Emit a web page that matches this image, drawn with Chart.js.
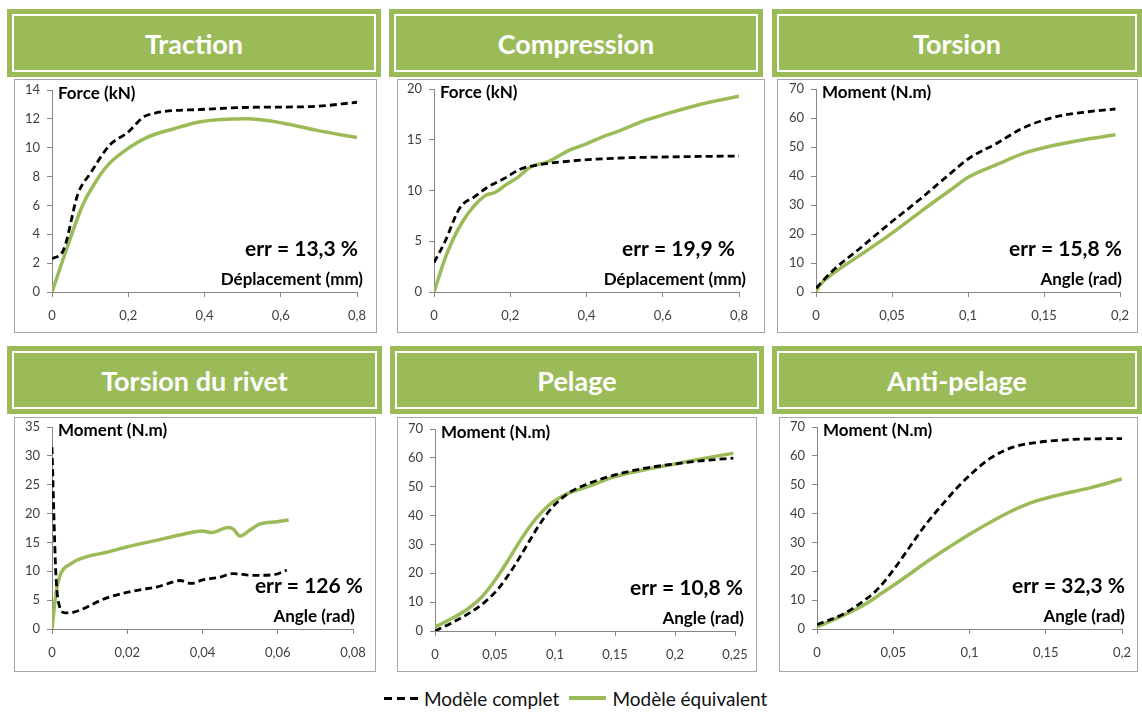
<!DOCTYPE html>
<html lang="fr">
<head>
<meta charset="UTF-8">
<title>Modèle complet / Modèle équivalent</title>
<script src="https://cdn.jsdelivr.net/npm/chart.js"></script>
<style>
  body { margin: 0; background: #fff; font-family: Lato, "Open Sans", sans-serif; }
  #page { position: relative; width: 1142px; height: 713px; overflow: hidden; }
  .header { position: absolute; background: #9BBB59; box-sizing: border-box; padding: 5px; }
  .header div { border: 2px solid #fff; height: 100%; box-sizing: border-box; color: #fff;
    font-weight: bold; font-size: 27px; display: flex; align-items: center; justify-content: center; }
  .box { position: absolute; border: 1px solid #A6A6A6; box-sizing: border-box; background: #fff; }
  .box canvas { position: absolute; left: 0; top: 0; }
  .legend { position: absolute; top: 686px; left: 384px; height: 24px; display: flex; align-items: center;
    font-size: 19px; color: #111; }
  .dash { width: 34px; height: 3px; background: repeating-linear-gradient(90deg, #000 0 8px, transparent 8px 13px); }
  .solid { width: 37px; height: 4px; background: #9BBB59; }
</style>
</head>
<body>
<div id="page"></div>

<script>
// ---- data (x, y) ----
// Traction : force (kN) vs déplacement (mm)
const tractionCompletX = [0, 0.03, 0.068, 0.1, 0.152, 0.196, 0.249, 0.39, 0.52, 0.68, 0.8];
const tractionCompletY = [2.3, 2.9, 6.8, 8.2, 10.2, 11.0, 12.25, 12.65, 12.8, 12.85, 13.15];
const tractionEquivX = [0, 0.04, 0.08, 0.126, 0.15, 0.186, 0.248, 0.318, 0.39, 0.51, 0.607, 0.695, 0.8];
const tractionEquivY = [0, 3.1, 6.0, 8.1, 8.9, 9.7, 10.7, 11.3, 11.8, 12.0, 11.7, 11.2, 10.7];

// Compression : force (kN) vs déplacement (mm)
const compCompletX = [0, 0.028, 0.068, 0.107, 0.139, 0.185, 0.226, 0.27, 0.357, 0.488, 0.6, 0.8];
const compCompletY = [2.9, 4.9, 8.3, 9.4, 10.3, 11.2, 12.1, 12.5, 12.9, 13.2, 13.3, 13.4];
const compEquivX = [0, 0.034, 0.076, 0.134, 0.16, 0.19, 0.22, 0.252, 0.296, 0.357, 0.4, 0.45, 0.488, 0.553, 0.614, 0.7, 0.8];
const compEquivY = [0, 3.8, 7.0, 9.5, 9.8, 10.6, 11.3, 12.3, 12.8, 14.0, 14.6, 15.4, 15.9, 16.9, 17.6, 18.5, 19.3];

// Torsion : moment (N.m) vs angle (rad)
const torsionCompletX = [0, 0.0103, 0.029, 0.05, 0.068, 0.086, 0.101, 0.119, 0.136, 0.156, 0.178, 0.197];
const torsionCompletY = [1.3, 7.0, 15.1, 24.3, 31.8, 39.8, 46.2, 51.3, 56.5, 60.2, 62.1, 63.1];
const torsionEquivX = [0, 0.0026, 0.0114, 0.031, 0.05, 0.068, 0.088, 0.101, 0.121, 0.136, 0.156, 0.178, 0.197];
const torsionEquivY = [0, 2.4, 6.4, 13.4, 20.3, 27.4, 35.0, 39.8, 44.4, 47.7, 50.5, 52.7, 54.2];

// Torsion du rivet : moment (N.m) vs angle (rad)
const rivetCompletX = [0, 0.0005, 0.001, 0.0017, 0.0035, 0.0056, 0.0146, 0.0234, 0.028, 0.0305, 0.034, 0.037, 0.04, 0.0447, 0.048, 0.0535, 0.059, 0.0624];
const rivetCompletY = [31.5, 19.8, 9.9, 4.7, 2.8, 2.9, 5.4, 6.8, 7.3, 7.8, 8.4, 7.9, 8.5, 9.0, 9.6, 9.3, 9.4, 10.2];
const rivetEquivX = [0, 0.001, 0.002, 0.0053, 0.0091, 0.0146, 0.0198, 0.028, 0.034, 0.0398, 0.0424, 0.0469, 0.0482, 0.05, 0.0527, 0.0553, 0.0598, 0.0629];
const rivetEquivY = [0, 5.9, 9.0, 11.4, 12.5, 13.3, 14.2, 15.4, 16.3, 17.0, 16.7, 17.6, 17.3, 16.1, 17.2, 18.2, 18.6, 18.9];

// Pelage : moment (N.m) vs angle (rad)
const pelageCompletX = [0, 0.0139, 0.0278, 0.0417, 0.0528, 0.0639, 0.075, 0.086, 0.097, 0.111, 0.125, 0.15, 0.175, 0.2, 0.225, 0.2486];
const pelageCompletY = [0, 2.8, 6.0, 10.1, 14.7, 21.1, 28.6, 36.2, 42.5, 47.7, 50.6, 54.1, 56.4, 57.9, 59.1, 59.9];
const pelageEquivX = [0, 0.0139, 0.0278, 0.0389, 0.05, 0.0611, 0.0722, 0.0833, 0.097, 0.111, 0.125, 0.15, 0.175, 0.2, 0.225, 0.2486];
const pelageEquivY = [1.4, 4.3, 7.8, 11.8, 17.6, 24.6, 32.1, 38.5, 44.3, 47.7, 49.7, 53.5, 55.9, 57.9, 59.9, 61.6];

// Anti-pelage : moment (N.m) vs angle (rad)
const antiCompletX = [0, 0.0173, 0.0304, 0.039, 0.05, 0.061, 0.072, 0.082, 0.092, 0.1025, 0.1137, 0.129, 0.1465, 0.168, 0.2];
const antiCompletY = [1.5, 5.2, 9.7, 13.4, 20.4, 28.6, 36.7, 43.0, 49.0, 54.4, 59.2, 63.1, 64.8, 65.7, 66.0];
const antiEquivX = [0, 0.0173, 0.0304, 0.0436, 0.0567, 0.072, 0.087, 0.1025, 0.125, 0.14, 0.158, 0.179, 0.2];
const antiEquivY = [0.8, 4.7, 8.2, 12.8, 17.5, 23.3, 28.5, 33.6, 40.2, 43.7, 46.4, 48.9, 52.0];

const seriesNames = ['Modèle complet', 'Modèle équivalent'];
const errors = ['13,3 %', '19,9 %', '15,8 %', '126 %', '10,8 %', '32,3 %'];

// ---- panel layout (page pixels) ----
const panels = [
  { title: 'Traction', yTitle: 'Force (kN)', xTitle: 'Déplacement (mm)', xMax: 0.8, xStep: 0.2, yMax: 14, yStep: 2,
    c: [tractionCompletX, tractionCompletY], e: [tractionEquivX, tractionEquivY],
    head: [7, 9, 381, 77], box: [14, 79, 377, 333], plot: [52, 90, 357, 292], errDx: 1, xtDx: 6 },
  { title: 'Compression', yTitle: 'Force (kN)', xTitle: 'Déplacement (mm)', xMax: 0.8, xStep: 0.2, yMax: 20, yStep: 5,
    c: [compCompletX, compCompletY], e: [compEquivX, compEquivY],
    head: [389, 9, 763, 77], box: [397, 79, 765, 333], plot: [434, 89, 739, 292], errDx: -4, xtDx: 7 },
  { title: 'Torsion', yTitle: 'Moment (N.m)', xTitle: 'Angle (rad)', xMax: 0.2, xStep: 0.05, yMax: 70, yStep: 10,
    c: [torsionCompletX, torsionCompletY], e: [torsionEquivX, torsionEquivY],
    head: [772, 9, 1142, 77], box: [777, 79, 1138, 333], plot: [816, 89, 1120, 292], errDx: 2, xtDx: 2 },
  { title: 'Torsion du rivet', yTitle: 'Moment (N.m)', xTitle: 'Angle (rad)', xMax: 0.08, xStep: 0.02, yMax: 35, yStep: 5,
    c: [rivetCompletX, rivetCompletY], e: [rivetEquivX, rivetEquivY],
    head: [7, 346, 382, 414], box: [14, 417, 376, 672], plot: [52, 427, 353, 629], errDx: 10, xtDx: 2 },
  { title: 'Pelage', yTitle: 'Moment (N.m)', xTitle: 'Angle (rad)', xMax: 0.25, xStep: 0.05, yMax: 70, yStep: 10,
    c: [pelageCompletX, pelageCompletY], e: [pelageEquivX, pelageEquivY],
    head: [390, 346, 764, 414], box: [397, 417, 757, 672], plot: [435, 429, 735, 631], errDx: 8, xtDx: 9 },
  { title: 'Anti-pelage', yTitle: 'Moment (N.m)', xTitle: 'Angle (rad)', xMax: 0.2, xStep: 0.05, yMax: 70, yStep: 10,
    c: [antiCompletX, antiCompletY], e: [antiEquivX, antiEquivY],
    head: [772, 346, 1142, 414], box: [779, 417, 1138, 672], plot: [817, 427, 1122, 629], errDx: 3, xtDx: 3 }
];

const page = document.getElementById('page');
const fmt = v => parseFloat(v.toFixed(4)).toString().replace('.', ',');
const pts = (xs, ys) => xs.map((x, i) => ({ x: x, y: ys[i] }));

// draws the in-plot texts (axis titles and error value)
const annotPlugin = {
  id: 'annot',
  afterDraw(chart, args, o) {
    const a = chart.chartArea, ctx = chart.ctx;
    ctx.save();
    ctx.fillStyle = '#000';
    ctx.textBaseline = 'middle';
    ctx.font = 'bold 17px Lato';
    ctx.textAlign = 'left';
    ctx.fillText(o.yTitle, a.left + 6, a.top + 4);
    ctx.textAlign = 'right';
    ctx.fillText(o.xTitle, a.right + o.xtDx, a.bottom - 12);
    ctx.font = 'bold 21px Lato';
    ctx.fillText('err = ' + o.err, a.right + o.errDx, a.bottom - 43);
    ctx.restore();
  }
};

panels.forEach((p, i) => {
  const h = document.createElement('div');
  h.className = 'header';
  Object.assign(h.style, { left: p.head[0] + 'px', top: p.head[1] + 'px',
    width: (p.head[2] - p.head[0]) + 'px', height: (p.head[3] - p.head[1]) + 'px' });
  h.innerHTML = '<div>' + p.title + '</div>';
  page.appendChild(h);

  const b = document.createElement('div');
  b.className = 'box';
  const bw = p.box[2] - p.box[0], bh = p.box[3] - p.box[1];
  Object.assign(b.style, { left: p.box[0] + 'px', top: p.box[1] + 'px', width: bw + 'px', height: bh + 'px' });
  const cv = document.createElement('canvas');
  cv.width = bw - 2; cv.height = bh - 2;
  b.appendChild(cv);
  page.appendChild(b);

  const yW = p.plot[0] - p.box[0] - 1;
  const xH = p.box[3] - 1 - p.plot[3];
  const padTop = p.plot[1] - p.box[1] - 1;
  const padRight = p.box[2] - 1 - p.plot[2];

  new Chart(cv, {
    type: 'line',
    data: {
      datasets: [
        { label: seriesNames[0], data: pts(p.c[0], p.c[1]), borderColor: '#000', borderWidth: 2.8,
          borderDash: [7, 4], pointRadius: 0, cubicInterpolationMode: 'monotone', fill: false },
        { label: seriesNames[1], data: pts(p.e[0], p.e[1]), borderColor: '#9BBB59', borderWidth: 3.5,
          pointRadius: 0, cubicInterpolationMode: 'monotone', fill: false }
      ]
    },
    options: {
      responsive: false,
      animation: false,
      layout: { padding: { left: 0, right: padRight, top: padTop, bottom: 0 } },
      plugins: {
        legend: { display: false },
        tooltip: { enabled: false },
        annot: { yTitle: p.yTitle, xTitle: p.xTitle, err: errors[i], errDx: p.errDx, xtDx: p.xtDx }
      },
      scales: {
        x: {
          type: 'linear', min: 0, max: p.xMax,
          ticks: { stepSize: p.xStep, callback: fmt, color: '#404040', font: { family: 'Lato', size: 13 },
                   padding: 11, maxRotation: 0, autoSkip: false },
          grid: { drawOnChartArea: false, color: '#868686', tickLength: 5 },
          border: { color: '#868686' },
          afterFit(s) { s.height = xH; s.paddingLeft = 0; s.paddingRight = 0; }
        },
        y: {
          min: 0, max: p.yMax,
          ticks: { stepSize: p.yStep, callback: fmt, color: '#404040', font: { family: 'Lato', size: 13 }, padding: 7 },
          grid: { drawOnChartArea: false, color: '#868686', tickLength: 5 },
          border: { color: '#868686' },
          afterFit(s) { s.width = yW; s.paddingTop = 0; s.paddingBottom = 0; }
        }
      }
    },
    plugins: [annotPlugin]
  });
});

// legend under the grid
const lg = document.createElement('div');
lg.className = 'legend';
lg.innerHTML = '<span class="dash"></span><span style="margin:0 10px 0 6px">' + seriesNames[0] + '</span>' +
  '<span class="solid"></span><span style="margin-left:6px">' + seriesNames[1] + '</span>';
page.appendChild(lg);
</script>
</body>
</html>
